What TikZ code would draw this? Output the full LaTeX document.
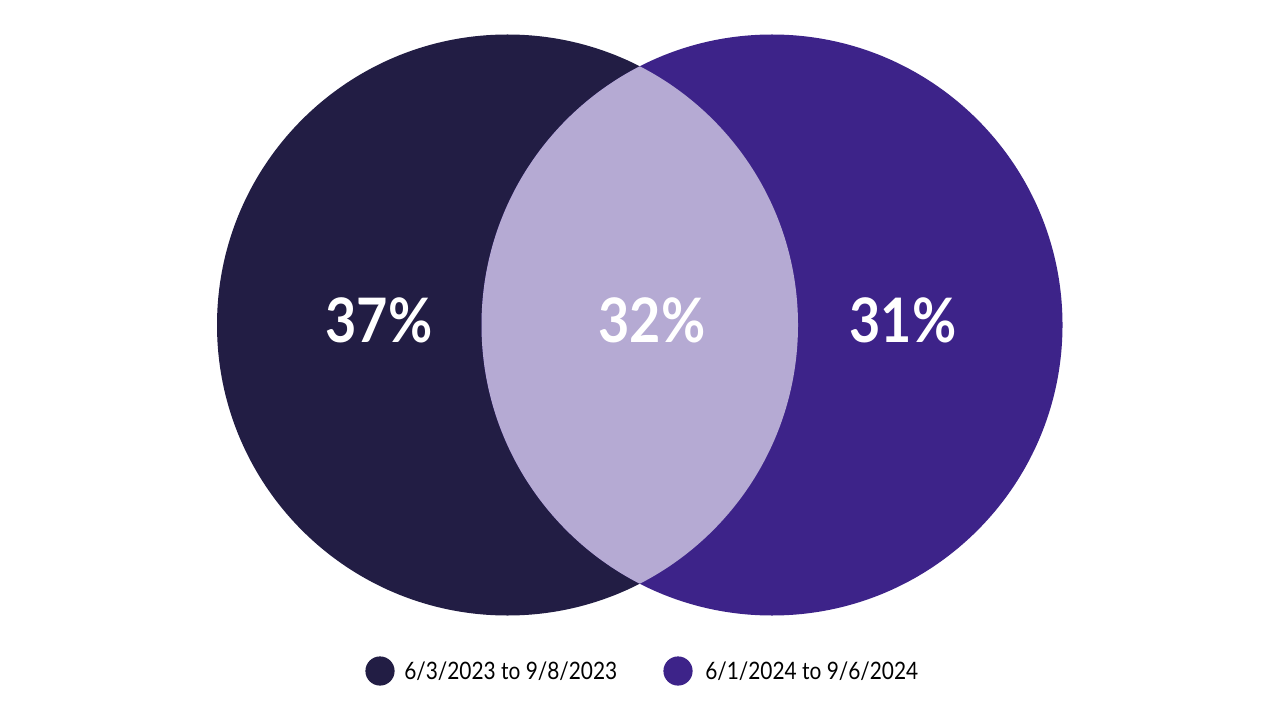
\documentclass[tikz,border=0pt]{standalone}
\usepackage{fontspec}
\setmainfont{Lato}
\newfontfamily\numfont[FakeStretch=0.88]{Lato}
\newfontfamily\legfont[FakeStretch=0.87]{Lato}
\definecolor{cDark}{HTML}{221D44}
\definecolor{cPurple}{HTML}{3D2389}
\definecolor{cLens}{HTML}{B5AAD3}
\begin{document}
\begin{tikzpicture}[x=0.75pt,y=-0.75pt,
  bigcircle/.style={circle,inner sep=0pt,minimum size=435.75pt},
  pct/.style={text=white,font=\numfont\bfseries\fontsize{46pt}{50pt}\selectfont},
  dot/.style={circle,inner sep=0pt,minimum size=21.9pt},
  leg/.style={anchor=west,inner sep=0pt,text=black,font=\legfont\fontsize{18pt}{22pt}\selectfont}]
\useasboundingbox[fill=white] (0,0) rectangle (1280,720);
\node[bigcircle,fill=cDark] (left) at (507.5,325) {};
\node[bigcircle,fill=cPurple] (right) at (772,325) {};
\begin{scope}
  \clip (507.5,325) circle[radius=217.875pt];
  \fill[cLens] (772,325) circle[radius=217.875pt];
\end{scope}
\node[pct] (pl) at (379,320) {37\%};
\node[pct] (pm) at (652,320) {32\%};
\node[pct] (pr) at (903,320) {31\%};
\node[dot,fill=cDark] (d1) at (380,671) {};
\node[leg] (t1) at (404,671) {6/3/2023 to 9/8/2023};
\node[dot,fill=cPurple] (d2) at (678,671) {};
\node[leg] (t2) at (705,671) {6/1/2024 to 9/6/2024};
\end{tikzpicture}
\end{document}
